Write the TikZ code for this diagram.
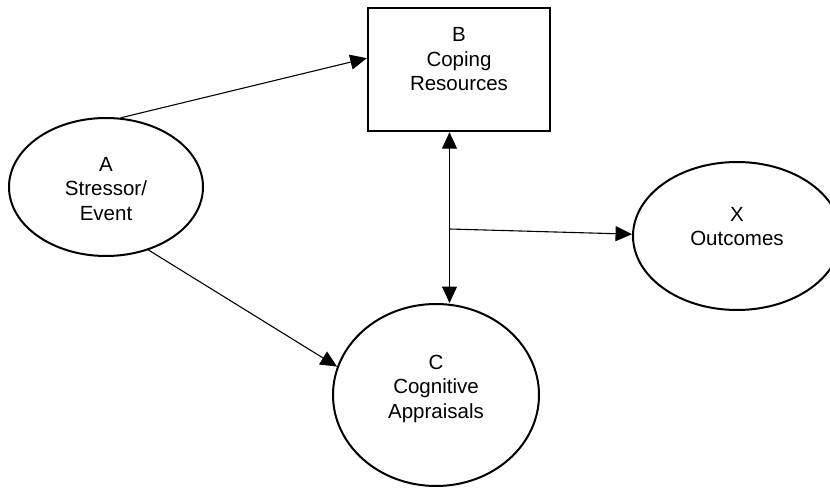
\documentclass[tikz,border=0pt]{standalone}
\usepackage{fontspec}
\setmainfont{Liberation Sans}
\usetikzlibrary{arrows.meta,shapes.geometric}
\begin{document}
\begin{tikzpicture}[x=1pt,y=-1pt,
  oval/.style={draw,ellipse,line width=2pt,inner sep=0pt},
  boxnode/.style={draw,rectangle,line width=2.4pt,inner sep=0pt},
  lbl/.style={align=center,inner sep=0pt,font=\fontsize{20.5}{24.5}\selectfont},
  conn/.style={line width=1.1pt,-{Triangle[length=16.5pt,width=15pt]}},
  bconn/.style={line width=1.1pt,{Triangle[length=16.5pt,width=15pt]}-{Triangle[length=16.5pt,width=15pt]}}]
\useasboundingbox (0,0) rectangle (830,489);
\node[oval,minimum width=194pt,minimum height=138pt] (A) at (106,187) {};
\node[boxnode,minimum width=182pt,minimum height=123pt] (B) at (459,69.5) {};
\node[oval,minimum width=206pt,minimum height=182pt] (C) at (436,395) {};
\node[oval,minimum width=208pt,minimum height=148pt] (X) at (737,236) {};
\node[lbl] (At) at (106,189) {A\\Stressor/\\Event};
\node[lbl] (Bt) at (459,59.5) {B\\Coping\\Resources};
\node[lbl] (Ct) at (436,388.5) {C\\Cognitive\\Appraisals};
\node[lbl] (Xt) at (737,226.5) {X\\Outcomes};
\coordinate (m) at (449.5,229);
\draw[conn] (A.78) -- (B.173);
\draw[conn] (A.-56) -- (C.164);
\draw[bconn] (B.south -| m) -- (C.north -| m);
\draw[conn] (m) -- (X.179);
\end{tikzpicture}
\end{document}
